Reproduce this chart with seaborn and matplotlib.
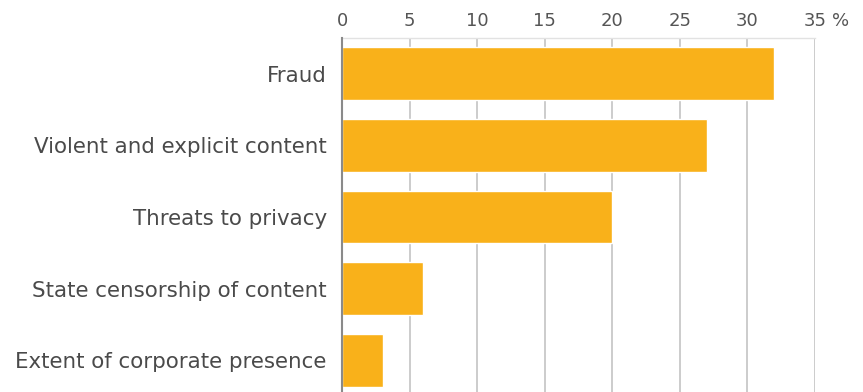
import matplotlib
matplotlib.use("Agg")
import matplotlib.pyplot as plt
import seaborn as sns
import pandas as pd

categories = ["Fraud", "Violent and explicit content", "Threats to privacy",
              "State censorship of content", "Extent of corporate presence"]
values = [32, 27, 20, 6, 3]
x_ticks = [0, 5, 10, 15, 20, 25, 30, 35]
x_tick_labels = ["0", "5", "10", "15", "20", "25", "30", "35"]
unit_label = "%"

df = pd.DataFrame({"category": categories, "value": values})

sns.set_theme(style="white")
plt.rcParams["font.family"] = ["DejaVu Sans"]

fig = plt.figure(figsize=(8.63, 3.92), dpi=100)
ax = fig.add_axes([342 / 863, -4 / 392, (815 - 342) / 863, (396 - 38) / 392])

sns.barplot(data=df, y="category", x="value", orient="h", color="#F9B11A",
            saturation=1, width=0.74, ax=ax, zorder=3)

ax.set_xlim(0, 35)
ax.set_xticks(x_ticks)
ax.set_xticklabels(x_tick_labels)
ax.set_yticks(range(len(categories)))
ax.set_yticklabels(categories)
ax.xaxis.tick_top()
ax.tick_params(axis="x", length=0, pad=5.5, labelsize=13, colors="#555555")
ax.tick_params(axis="y", length=0, pad=11, labelsize=15.4, colors="#4a4a4a")
ax.set_xlabel("")
ax.set_ylabel("")
ax.grid(axis="x", color="#c4c4c4", linewidth=1.2, zorder=0)
ax.grid(axis="y", visible=False)

for side in ["right", "bottom"]:
    ax.spines[side].set_visible(False)
ax.spines["left"].set_color("#8a8a8a")
ax.spines["left"].set_linewidth(1.5)
ax.spines["left"].set_zorder(4)
ax.spines["top"].set_color("#e2e2e2")
ax.spines["top"].set_linewidth(1.0)

ax.annotate(unit_label, xy=(35, 1), xycoords=ax.get_xaxis_transform(),
            xytext=(17, 12), textcoords="offset pixels",
            ha="left", va="baseline", fontsize=13, color="#555555")

fig.savefig("out.png", dpi=100)
